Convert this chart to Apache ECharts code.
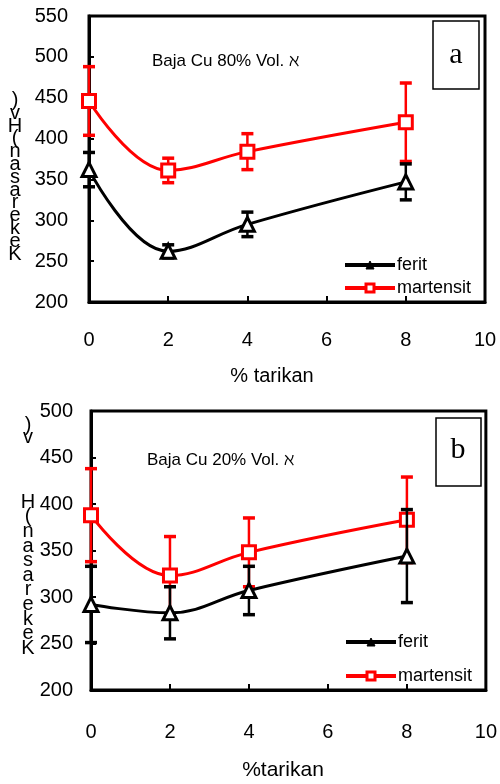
<!DOCTYPE html>
<html><head><meta charset="utf-8">
<script src="https://cdn.jsdelivr.net/npm/echarts@6/dist/echarts.min.js"></script>
<style>html,body{margin:0;padding:0;background:#fff;}#c{width:500px;height:784px;}</style>
</head><body><div id="c"></div>
<script>
const xVals = [0, 2, 4, 8];
const xTicks = [0, 2, 4, 6, 8, 10];
const feritA = [362, 262, 295, 347];
const feritAErr = [21, 8, 15, 22];
const martA = [446, 361, 384, 420];
const martAErr = [42, 15, 22, 48];
const feritB = [292, 283, 307, 344];
const feritBErr = [41, 28, 26, 50];
const martB = [388, 323, 348, 383];
const martBErr = [50, 42, 37, 46];
const yTicksA = [200, 250, 300, 350, 400, 450, 500, 550];
const yTicksB = [200, 250, 300, 350, 400, 450, 500];
const seriesNames = ['ferit', 'martensit'];
const titleA = 'Baja Cu 80% Vol. ℵ';
const titleB = 'Baja Cu 20% Vol. ℵ';
const xTitleA = '% tarikan';
const xTitleB = '%tarikan';
const yTitle = 'Kekerasan (Hv)';

const FONT = '"Liberation Sans", Arial, sans-serif';
const pts = (vals) => xVals.map((x, i) => [x, vals[i]]);
const errPts = (vals, errs) => xVals.map((x, i) => [x, vals[i] - errs[i], vals[i] + errs[i]]);

function errRender(color, lw, cap) {
  return function (params, api) {
    const x = api.value(0), lo = api.value(1), hi = api.value(2);
    const pLo = api.coord([x, lo]), pHi = api.coord([x, hi]);
    return {
      type: 'group', children: [
        {type: 'line', shape: {x1: pLo[0], y1: pLo[1], x2: pHi[0], y2: pHi[1]}, style: {stroke: color, lineWidth: lw}},
        {type: 'line', shape: {x1: pHi[0] - cap, y1: pHi[1], x2: pHi[0] + cap, y2: pHi[1]}, style: {stroke: color, lineWidth: lw + 1}},
        {type: 'line', shape: {x1: pLo[0] - cap, y1: pLo[1], x2: pLo[0] + cap, y2: pLo[1]}, style: {stroke: color, lineWidth: lw + 1}}
      ]
    };
  };
}

function xAxisCfg(gi) {
  return {
    type: 'value', gridIndex: gi, min: 0, max: 10, interval: 2,
    axisLine: {show: true, lineStyle: {color: '#000', width: 3}},
    axisTick: {show: true, inside: true, length: 6, lineStyle: {color: '#000', width: 2}},
    axisLabel: {color: '#000', fontSize: 20, fontFamily: FONT, margin: gi === 0 ? 28 : 32},
    splitLine: {show: false}
  };
}
function yAxisCfg(gi, max) {
  return {
    type: 'value', gridIndex: gi, min: 200, max: max, interval: 50,
    axisLine: {show: true, lineStyle: {color: '#000', width: 3}},
    axisTick: {show: true, inside: true, length: 5, lineStyle: {color: '#000', width: 2}},
    axisLabel: {color: '#000', fontSize: 20, fontFamily: FONT, margin: gi === 0 ? 21 : 18},
    splitLine: {show: false}
  };
}

function seriesFor(gi, ferit, feritErr, mart, martErr) {
  return [
    {name: 'martensit-err', type: 'custom', xAxisIndex: gi, yAxisIndex: gi, z: 3,
     renderItem: errRender('#ff0000', 2.5, 6), encode: {x: 0, y: [1, 2]}, data: errPts(mart, martErr)},
    {name: seriesNames[1], type: 'line', xAxisIndex: gi, yAxisIndex: gi, z: 4, smooth: 0.4,
     symbol: 'rect', symbolSize: 13, showAllSymbol: true,
     lineStyle: {color: '#ff0000', width: 3},
     itemStyle: {color: '#fff', borderColor: '#ff0000', borderWidth: 3},
     data: pts(mart)},
    {name: 'ferit-err', type: 'custom', xAxisIndex: gi, yAxisIndex: gi, z: 5,
     renderItem: errRender('#000', 2.5, 6), encode: {x: 0, y: [1, 2]}, data: errPts(ferit, feritErr)},
    {name: seriesNames[0], type: 'line', xAxisIndex: gi, yAxisIndex: gi, z: 6, smooth: 0.4,
     symbol: 'triangle', symbolSize: 14,
     lineStyle: {color: '#000', width: 3},
     itemStyle: {color: '#fff', borderColor: '#000', borderWidth: 3},
     data: pts(ferit)}
  ];
}

function legendCfg(left, top, gap) {
  return {
    orient: 'vertical', left: left, top: top, itemGap: gap, itemWidth: 50, itemHeight: 10,
    selectedMode: false,
    textStyle: {color: '#000', fontSize: 18, fontFamily: FONT, padding: [0, 0, 0, -3]},
    data: [
      {name: seriesNames[0], itemStyle: {color: '#000', borderColor: '#000', borderWidth: 1}, lineStyle: {color: '#000', width: 4}},
      {name: seriesNames[1], itemStyle: {color: '#fff', borderColor: '#ff0000', borderWidth: 3}, lineStyle: {color: '#ff0000', width: 4}}
    ]
  };
}

const yTitleLines = yTitle.replace(' ', '').split('').reverse();

const chart = echarts.init(document.getElementById('c'), null, {renderer: 'canvas'});
chart.setOption({
  animation: false,
  backgroundColor: '#fff',
  grid: [
    {left: 89, top: 16, width: 396, height: 286, show: true, borderColor: '#000', borderWidth: 3, backgroundColor: 'transparent'},
    {left: 91, top: 411, width: 396, height: 279, show: true, borderColor: '#000', borderWidth: 3, backgroundColor: 'transparent'}
  ],
  xAxis: [xAxisCfg(0), xAxisCfg(1)],
  yAxis: [yAxisCfg(0, 550), yAxisCfg(1, 500)],
  legend: [legendCfg(338, 251, 5), legendCfg(339, 628, 16)],
  series: [].concat(seriesFor(0, feritA, feritAErr, martA, martAErr), seriesFor(1, feritB, feritBErr, martB, martBErr)),
  graphic: [
    {type: 'text', left: 152, top: 53, style: {text: titleA, fill: '#000', font: '17px ' + FONT}},
    {type: 'text', left: 147, top: 452, style: {text: titleB, fill: '#000', font: '17px ' + FONT}},
    {type: 'rect', shape: {x: 433, y: 21, width: 46, height: 68}, style: {fill: '#fff', stroke: '#000', lineWidth: 1.5}, z: 10},
    {type: 'text', x: 456, y: 55, z: 11, style: {text: 'a', fill: '#000', font: '30px "Liberation Serif", "Times New Roman", serif', textAlign: 'center', textVerticalAlign: 'middle'}},
    {type: 'rect', shape: {x: 436, y: 418, width: 45, height: 68}, style: {fill: '#fff', stroke: '#000', lineWidth: 1.5}, z: 10},
    {type: 'text', x: 458, y: 450, z: 11, style: {text: 'b', fill: '#000', font: '30px "Liberation Serif", "Times New Roman", serif', textAlign: 'center', textVerticalAlign: 'middle'}},
    {type: 'text', x: 272, y: 376, style: {text: xTitleA, fill: '#000', font: '20px ' + FONT, textAlign: 'center', textVerticalAlign: 'middle'}},
    {type: 'text', x: 283, y: 770, style: {text: xTitleB, fill: '#000', font: '21px ' + FONT, textAlign: 'center', textVerticalAlign: 'middle'}},
    {type: 'text', x: 15, y: 94, style: {text: yTitleLines.join('\n'), fill: '#000', font: '20px ' + FONT, lineHeight: 12.8, textAlign: 'center'}},
    {type: 'text', x: 28, y: 419, style: {text: yTitleLines.slice(0, 2).join('\n'), fill: '#000', font: '20px ' + FONT, lineHeight: 12, textAlign: 'center'}},
    {type: 'text', x: 28, y: 495, style: {text: yTitleLines.slice(2).join('\n'), fill: '#000', font: '20px ' + FONT, lineHeight: 14.6, textAlign: 'center'}}
  ]
});
</script></body></html>
